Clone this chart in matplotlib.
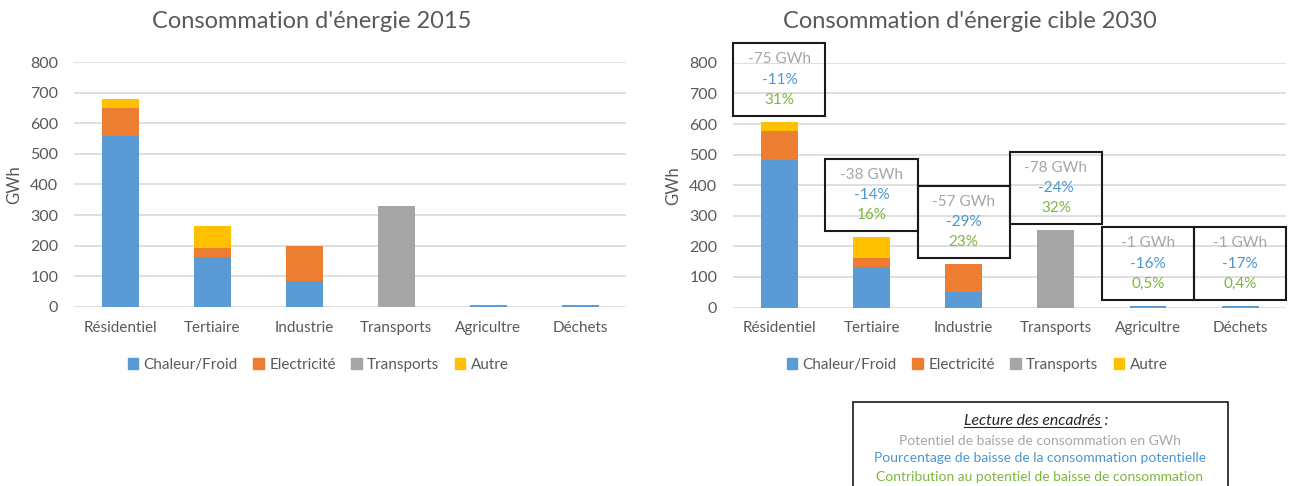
import matplotlib
matplotlib.use("Agg")
import matplotlib.pyplot as plt
from matplotlib.patches import Rectangle, Patch

plt.rcParams['font.family'] = ['Lato', 'DejaVu Sans']

# secteurs
secteurs = ["Résidentiel", "Tertiaire", "Industrie", "Transports", "Agricultre", "Déchets"]
usages = ["Chaleur/Froid", "Electricité", "Transports", "Autre"]

# consommation 2015 (GWh)
chaleur_2015 = [560, 162, 84, 0, 6.3, 5.9]
elec_2015 = [90, 31, 114, 0, 0, 0]
transp_2015 = [0, 0, 0, 330, 0, 0]
autre_2015 = [30, 72, 0, 0, 0, 0]

# consommation cible 2030 (GWh)
chaleur_2030 = [482, 134, 52, 0, 5.3, 4.9]
elec_2030 = [96, 27, 90, 0, 0, 0]
transp_2030 = [0, 0, 0, 252, 0, 0]
autre_2030 = [29, 69, 0, 0, 0, 0]

# encadrés : baisse en GWh, % de baisse, contribution
baisse_gwh = ["-75 GWh", "-38 GWh", "-57 GWh", "-78 GWh", "-1 GWh", "-1 GWh"]
baisse_pct = ["-11%", "-14%", "-29%", "-24%", "-16%", "-17%"]
contribution = ["31%", "16%", "23%", "32%", "0,5%", "0,4%"]

couleurs = ["#5B9BD5", "#ED7D31", "#A5A5A5", "#FFC000"]
gris_txt = "#595959"
c_gris = "#A6A6A6"
c_bleu = "#4A97D0"
c_vert = "#7DB63F"

W, H = 1291, 486
fig = plt.figure(figsize=(W / 100, H / 100), dpi=100)
ax1 = fig.add_axes([74.3 / W, 1 - 306.7 / H, 552 / W, 244.4 / H])
ax2 = fig.add_axes([733.3 / W, 1 - 307.5 / H, 553 / W, 244.6 / H])


def empile(ax, series):
    x = range(len(secteurs))
    bas = [0] * len(secteurs)
    for vals, c in zip(series, couleurs):
        ax.bar(x, vals, 0.40, bottom=bas, color=c, zorder=3)
        bas = [b + v for b, v in zip(bas, vals)]
    ax.set_ylim(0, 800)
    ax.set_xlim(-0.5, len(secteurs) - 0.5)
    ax.set_yticks(range(0, 801, 100))
    ax.set_xticks(list(x))
    ax.set_xticklabels(secteurs, fontsize=11)
    ax.grid(axis='y', color="#D9D9D9", linewidth=1.2, zorder=0)
    for s in ax.spines.values():
        s.set_visible(False)
    ax.tick_params(length=0, colors=gris_txt)
    ax.tick_params(axis='y', labelsize=11.5, pad=11.5)
    ax.tick_params(axis='x', pad=10)
    ax.set_ylabel("GWh", color=gris_txt, fontsize=12, labelpad=6)
    return bas


empile(ax1, [chaleur_2015, elec_2015, transp_2015, autre_2015])
totaux = empile(ax2, [chaleur_2030, elec_2030, transp_2030, autre_2030])

# encadrés au-dessus des barres 2030
haut_box = 237
ecart = 66
for i, tot in enumerate(totaux):
    bas = tot + 20
    ax2.add_patch(Rectangle((i - 0.5, bas), 1.0, haut_box, fill=False,
                            edgecolor="#1a1a1a", linewidth=1.5,
                            clip_on=False, zorder=5))
    mid = bas + haut_box / 2
    ax2.text(i, mid + ecart, baisse_gwh[i], color=c_gris, ha='center', va='center',
             fontsize=11, clip_on=False)
    ax2.text(i, mid, baisse_pct[i], color=c_bleu, ha='center', va='center',
             fontsize=11, clip_on=False)
    ax2.text(i, mid - ecart, contribution[i], color=c_vert, ha='center', va='center',
             fontsize=11, clip_on=False)

fig.text(312 / W, 0.955, "Consommation d'énergie 2015", ha='center', va='center',
         fontsize=17, color=gris_txt)
fig.text(970 / W, 0.955, "Consommation d'énergie cible 2030", ha='center', va='center',
         fontsize=17, color=gris_txt)

poignees = [Patch(color=c) for c in couleurs]
for cx in (318, 977):
    fig.legend(poignees, usages, loc='center', bbox_to_anchor=(cx / W, 0.249), ncol=4,
               frameon=False, handlelength=0.7, handleheight=0.7, handletextpad=0.35,
               columnspacing=1.0, fontsize=11, labelcolor=gris_txt)

# cadre de lecture
fig.patches.append(Rectangle((853 / W, -0.05), 375 / W, 1.05 - 402 / H,
                             transform=fig.transFigure, fill=False,
                             edgecolor="#1a1a1a", linewidth=1.2))
cx = 1036 / W
t = fig.text(cx, 0.1344, "Lecture des encadrés :", ha='center', va='center',
             fontsize=11.3, style='italic', color="#262626")
fig.canvas.draw()
rend = fig.canvas.get_renderer()
bb = t.get_window_extent(renderer=rend)
t2 = fig.text(0, 0, " :", fontsize=11.3, style='italic')
w2 = t2.get_window_extent(renderer=rend).width
t2.remove()
x0, x1 = bb.x0 / W, (bb.x1 - w2) / W
yl = (bb.y0 + 1) / H
fig.add_artist(plt.Line2D([x0, x1], [yl, yl], color="#262626", linewidth=0.8,
                          transform=fig.transFigure))
cx = 1040 / W
fig.text(cx, 0.0932, "Potentiel de baisse de consommation en GWh", ha='center', va='center',
         fontsize=10, color=c_gris)
fig.text(cx, 0.0576, "Pourcentage de baisse de la consommation potentielle", ha='center',
         va='center', fontsize=10, color=c_bleu)
fig.text(cx, 0.0191, "Contribution au potentiel de baisse de consommation", ha='center',
         va='center', fontsize=10, color=c_vert)

fig.savefig("out.png", dpi=100)
